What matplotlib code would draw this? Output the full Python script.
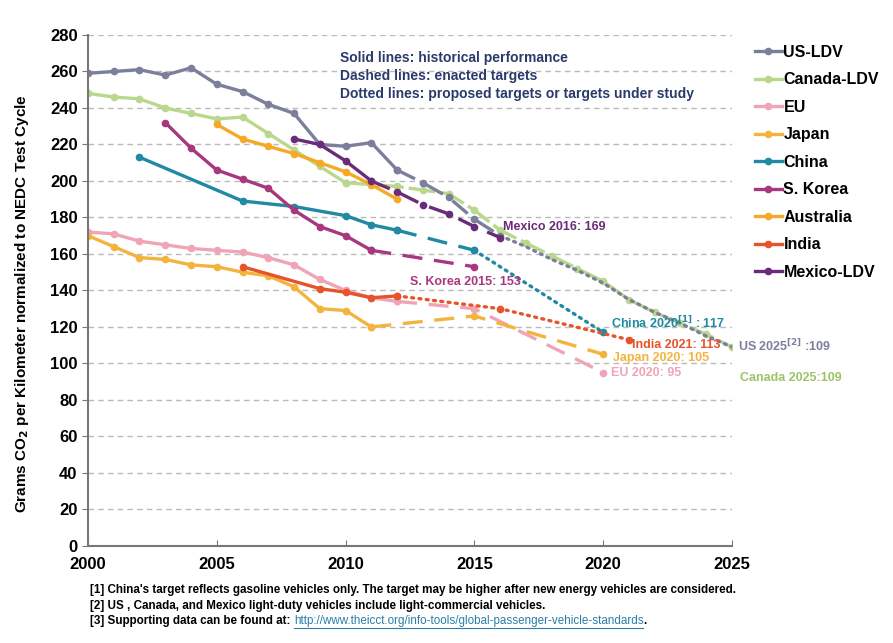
import matplotlib.pyplot as plt
import numpy as np

plt.rcParams['font.family'] = ['Liberation Sans', 'DejaVu Sans']
plt.rcParams['font.weight'] = 'bold'

# historical performance (solid)
us_years = [2000, 2001, 2002, 2003, 2004, 2005, 2006, 2007, 2008, 2009, 2010, 2011, 2012]
us_vals = [259, 260, 261, 258, 262, 253, 249, 242, 237, 220, 219, 221, 206]
canada_years = [2000, 2001, 2002, 2003, 2004, 2005, 2006, 2007, 2008, 2009, 2010]
canada_vals = [248, 246, 245, 240, 237, 234, 235, 226, 217, 208, 199]
eu_years = [2000, 2001, 2002, 2003, 2004, 2005, 2006, 2007, 2008, 2009, 2010, 2011, 2012]
eu_vals = [172, 171, 167, 165, 163, 162, 161, 158, 154, 146, 140, 136, 134]
japan_years = [2000, 2001, 2002, 2003, 2004, 2005, 2006, 2007, 2008, 2009, 2010, 2011]
japan_vals = [170, 164, 158, 157, 154, 153, 150, 148, 142, 130, 129, 120]
china_years = [2002, 2006, 2008, 2010, 2011, 2012]
china_vals = [213, 189, 186, 181, 176, 173]
korea_years = [2003, 2004, 2005, 2006, 2007, 2008, 2009, 2010, 2011]
korea_vals = [232, 218, 206, 201, 196, 184, 175, 170, 162]
australia_years = [2005, 2006, 2007, 2008, 2009, 2010, 2011, 2012]
australia_vals = [231, 223, 219, 215, 210, 205, 198, 190]
india_years = [2006, 2009, 2010, 2011, 2012]
india_vals = [153, 141, 139, 136, 137]
mexico_years = [2008, 2009, 2010, 2011]
mexico_vals = [223, 220, 211, 200]

# enacted targets (dashed)
us_t_years = [2012, 2013, 2014, 2015, 2016]
us_t_vals = [206, 199, 191, 179, 170]
canada_t_years = [2010, 2011, 2012, 2013, 2014, 2015, 2016, 2017, 2018, 2019, 2020, 2021, 2022, 2023, 2024, 2025]
canada_t_vals = [199, 198, 197, 195, 193, 184, 173, 166, 159, 152, 145, 135, 128, 122, 116, 109]
eu_t_years = [2012, 2015, 2020]
eu_t_vals = [134, 130, 95]
japan_t_years = [2011, 2015, 2020]
japan_t_vals = [120, 126, 105]
china_t_years = [2012, 2015]
china_t_vals = [173, 162]
korea_t_years = [2011, 2015]
korea_t_vals = [162, 153]
mexico_t_years = [2011, 2012, 2013, 2014, 2015, 2016]
mexico_t_vals = [200, 194, 187, 182, 175, 169]

# proposed targets (dotted)
us_p_years = [2016, 2017, 2018, 2019, 2020, 2021, 2022, 2023, 2024, 2025]
us_p_vals = [170, 164, 157, 151, 144, 135, 128, 122, 115, 109]
china_p_years = [2015, 2020]
china_p_vals = [162, 117]
india_p_years = [2012, 2016, 2021]
india_p_vals = [137, 130, 113]

c_us = '#7b7f9c'
c_canada = '#b9d88c'
c_eu = '#f0a4b6'
c_japan = '#f3b43f'
c_china = '#1f8aa2'
c_korea = '#a8377f'
c_australia = '#f5a927'
c_india = '#e5542b'
c_mexico = '#6a2b79'

fig = plt.figure(figsize=(8.93, 6.43), dpi=100)
ax = fig.add_axes([0.0985, 0.151, 0.7212, 0.7946])

lw = 2.4
ms = 4.5
dash = (0, (6, 3.5))
dot = (0, (0.6, 1.6))

# targets first so historical lines sit on top
ax.plot(canada_t_years, canada_t_vals, color=c_canada, lw=lw, ls=(0, (8, 1.5)), marker='o', ms=ms)
ax.plot(us_t_years, us_t_vals, color=c_us, lw=lw, ls=dash, marker='o', ms=ms)
ax.plot(us_p_years, us_p_vals, color=c_us, lw=lw, ls=dot, dash_capstyle='round')
ax.plot(mexico_t_years, mexico_t_vals, color=c_mexico, lw=lw, ls=dash, marker='o', ms=ms)
ax.plot(eu_t_years, eu_t_vals, color=c_eu, lw=lw, ls=dash, marker='o', ms=ms)
ax.plot(japan_t_years, japan_t_vals, color=c_japan, lw=lw, ls=dash, marker='o', ms=ms)
ax.plot(china_t_years, china_t_vals, color=c_china, lw=lw, ls=dash, marker='o', ms=ms)
ax.plot(china_p_years, china_p_vals, color=c_china, lw=lw, ls=dot, dash_capstyle='round', marker='o', ms=ms)
ax.plot(korea_t_years, korea_t_vals, color=c_korea, lw=lw, ls=dash, marker='o', ms=ms)
ax.plot(india_p_years, india_p_vals, color=c_india, lw=lw, ls=dot, dash_capstyle='round', marker='o', ms=ms)

series = [
    ('US-LDV', us_years, us_vals, c_us),
    ('Canada-LDV', canada_years, canada_vals, c_canada),
    ('EU', eu_years, eu_vals, c_eu),
    ('Japan', japan_years, japan_vals, c_japan),
    ('China', china_years, china_vals, c_china),
    ('S. Korea', korea_years, korea_vals, c_korea),
    ('Australia', australia_years, australia_vals, c_australia),
    ('India', india_years, india_vals, c_india),
    ('Mexico-LDV', mexico_years, mexico_vals, c_mexico),
]
for name, xs, ys, col in series:
    ax.plot(xs, ys, color=col, lw=lw, marker='o', ms=ms, label=name)

ax.set_xlim(2000, 2025)
ax.set_ylim(0, 280)
ax.set_xticks(np.arange(2000, 2026, 5))
ax.set_yticks(np.arange(0, 281, 20))
ax.tick_params(axis='both', labelsize=12, color='#777777', length=4)
ax.tick_params(axis='x', direction='in', pad=8)
ax.yaxis.grid(True, ls=(0, (4, 3)), color='#bbbbbb', lw=1)
ax.set_axisbelow(True)
for s in ['top', 'right']:
    ax.spines[s].set_visible(False)
for s in ['left', 'bottom']:
    ax.spines[s].set_color('#777777')
    ax.spines[s].set_linewidth(1.5)
ax.set_ylabel('Grams CO$_\\mathbf{2}$ per Kilometer normalized to NEDC Test Cycle',
              fontsize=11, fontweight='bold')
ax.yaxis.set_label_coords(-0.088, 0.475)

ax.legend(loc='upper left', bbox_to_anchor=(0.838, 0.94), bbox_transform=fig.transFigure,
          frameon=False, fontsize=11.5, handlelength=1.7, handletextpad=0.1,
          labelspacing=0.78, borderaxespad=0)

navy = '#2a3a6b'
ax.text(2009.8, 271, 'Solid lines: historical performance\nDashed lines: enacted targets\n'
        'Dotted lines: proposed targets or targets under study',
        color=navy, fontsize=10, fontweight='bold', va='top', linespacing=1.35)

fs = 9
ax.text(2016.1, 174.5, 'Mexico 2016: 169', color=c_mexico, fontsize=fs, va='center')
ax.text(2012.5, 144.5, 'S. Korea 2015: 153', color=c_korea, fontsize=fs, va='center')
ax.text(2020.3, 122, 'China 2020$^{[1]}$ : 117', color=c_china, fontsize=fs, va='center')
ax.text(2021.1, 110, 'India 2021: 113', color=c_india, fontsize=fs, va='center')
ax.text(2020.4, 103, 'Japan 2020: 105', color=c_japan, fontsize=fs, va='center')
ax.text(2020.3, 94.5, 'EU 2020: 95', color=c_eu, fontsize=fs, va='center')
ax.text(2025.25, 109.5, 'US 2025$^{[2]}$ :109', color=c_us, fontsize=fs, va='center',
        clip_on=False)
ax.text(2025.3, 92, 'Canada 2025:109', color='#9cc36a', fontsize=fs, va='center',
        clip_on=False)

fy = 0.082
ff = 8.4
fig.text(0.101, fy, "[1] China's target reflects gasoline vehicles only. The target may be higher "
         "after new energy vehicles are considered.", fontsize=ff, va='center')
fig.text(0.101, fy - 0.024, "[2] US , Canada, and Mexico light-duty vehicles include "
         "light-commercial vehicles.", fontsize=ff, va='center')
t3 = fig.text(0.101, fy - 0.048, "[3] Supporting data can be found at: ", fontsize=ff, va='center')
fig.canvas.draw()
bb = t3.get_window_extent()
x_url = bb.x1 / fig.bbox.width
url = fig.text(x_url, fy - 0.048, "http://www.theicct.org/info-tools/global-passenger-vehicle-standards",
               fontsize=ff, va='center', color='#2a7fa8', fontweight='normal')
fig.canvas.draw()
# underline the url
ub = url.get_window_extent()
fig.add_artist(plt.Line2D([ub.x0 / fig.bbox.width, ub.x1 / fig.bbox.width],
                          [(ub.y0 - 1) / fig.bbox.height] * 2, color='#2a7fa8', lw=0.8))
fig.text(ub.x1 / fig.bbox.width, fy - 0.048, ".", fontsize=ff, va='center')

plt.savefig('out.png', dpi=100)
